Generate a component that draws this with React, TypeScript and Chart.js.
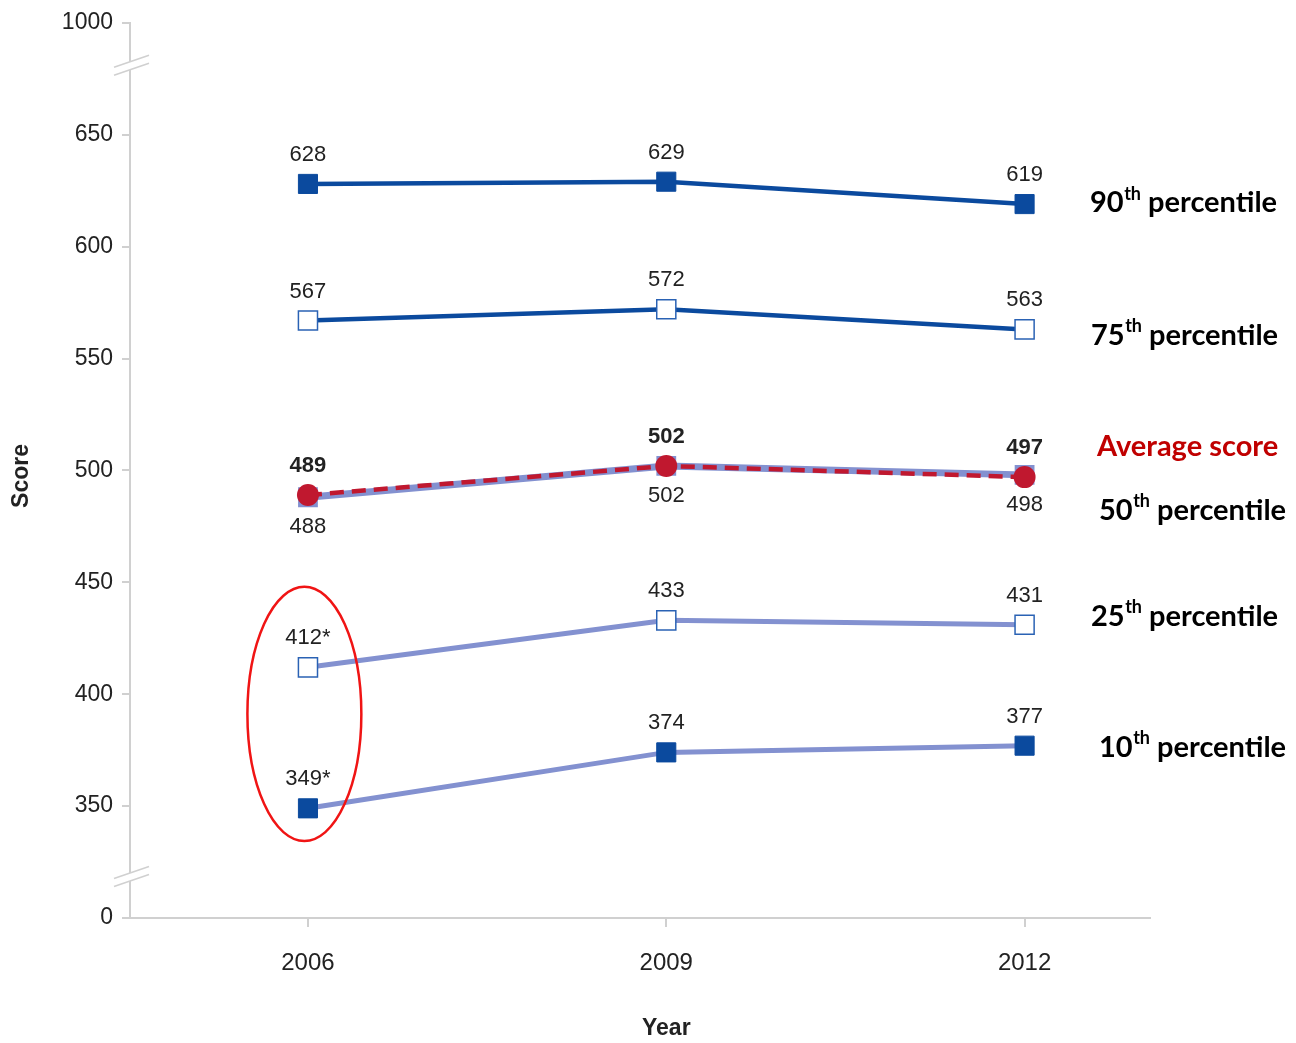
import React, { useEffect, useRef } from "react";
import { Chart, registerables } from "chart.js";

Chart.register(...registerables);

// ---- data ----
const years = [2006, 2009, 2012];
const p90 = [628, 629, 619];
const p75 = [567, 572, 563];
const avgScore = [489, 502, 497];
const p50 = [488, 502, 498];
const p25 = [412, 433, 431];
const p10 = [349, 374, 377];

const p90Labels = ["628", "629", "619"];
const p75Labels = ["567", "572", "563"];
const avgLabels = ["489", "502", "497"];
const p50Labels = ["488", "502", "498"];
const p25Labels = ["412*", "433", "431"];
const p10Labels = ["349*", "374", "377"];

const yTickValues = [300, 350, 400, 450, 500, 550, 600, 650, 700];
const yTickText = ["0", "350", "400", "450", "500", "550", "600", "650", "1000"];
const xTickValues = [2006, 2009, 2012];
const axisBreakValues = [318.3, 680.8];

const xTitle = "Year";
const yTitle = "Score";
const seriesNames = ["90", "75", "Average score", "50", "25", "10"];
const seriesLabelValues = [619.5, 560.4, 510.7, 482, 434.7, 376.3];

// ---- styles ----
const DARK = "#0B4A9E";
const LIGHT = "#8391D0";
const RED = "#C0182F";
const AXIS = "#D0D0D0";
const TEXT = "#222222";
const SANS = "'Liberation Sans', Arial, sans-serif";

const overlayPlugin = {
  id: "overlay",
  afterDatasetsDraw(chart: any) {
    const ctx = chart.ctx;
    const xs = chart.scales.x;
    const ys = chart.scales.y;

    // data labels
    const groups: [number[], string[], number, boolean][] = [
      [p90, p90Labels, -29, false],
      [p75, p75Labels, -29, false],
      [avgScore, avgLabels, -29, true],
      [p50, p50Labels, 30, false],
      [p25, p25Labels, -29, false],
      [p10, p10Labels, -29, false],
    ];
    ctx.save();
    ctx.textAlign = "center";
    ctx.textBaseline = "middle";
    ctx.fillStyle = TEXT;
    groups.forEach(([vals, labs, off, bold]) => {
      ctx.font = `${bold ? "bold " : ""}22px ${SANS}`;
      vals.forEach((v, i) => {
        const x = xs.getPixelForValue(years[i]);
        const y = ys.getPixelForValue(v) + off;
        ctx.fillText(labs[i], x, y);
      });
    });
    ctx.restore();

    // ellipse highlight
    ctx.save();
    const cx = xs.getPixelForValue(2005.97);
    const cy = ys.getPixelForValue(391.2);
    const rx = Math.abs(xs.getPixelForValue(2005.97 + 0.477) - cx);
    const ry = Math.abs(ys.getPixelForValue(391.2 + 56.8) - cy);
    ctx.strokeStyle = "#F01414";
    ctx.lineWidth = 2.5;
    ctx.beginPath();
    ctx.ellipse(cx, cy, rx, ry, 0, 0, Math.PI * 2);
    ctx.stroke();
    ctx.restore();
  },
  afterDraw(chart: any) {
    const ctx = chart.ctx;
    const xs = chart.scales.x;
    const ys = chart.scales.y;
    const left = chart.chartArea.left;

    // axis breaks
    ctx.save();
    axisBreakValues.forEach((v) => {
      const cy = ys.getPixelForValue(v);
      const x0 = left - 16;
      const x1 = left + 19;
      const slope = -12 / 35;
      const yAt = (x: number, d: number) => cy + d + slope * (x - left);
      ctx.fillStyle = "#ffffff";
      ctx.beginPath();
      ctx.moveTo(x0, yAt(x0, -4));
      ctx.lineTo(x1, yAt(x1, -4));
      ctx.lineTo(x1, yAt(x1, 4));
      ctx.lineTo(x0, yAt(x0, 4));
      ctx.closePath();
      ctx.fill();
      ctx.strokeStyle = AXIS;
      ctx.lineWidth = 1.5;
      [-4, 4].forEach((d) => {
        ctx.beginPath();
        ctx.moveTo(x0, yAt(x0, d));
        ctx.lineTo(x1, yAt(x1, d));
        ctx.stroke();
      });
    });
    ctx.restore();

    // axis titles
    ctx.save();
    ctx.fillStyle = TEXT;
    ctx.font = `bold 23px ${SANS}`;
    ctx.textAlign = "center";
    ctx.textBaseline = "middle";
    ctx.fillText(xTitle, xs.getPixelForValue(2009), 1029);
    ctx.translate(22, ys.getPixelForValue(497.5));
    ctx.rotate(-Math.PI / 2);
    ctx.fillText(yTitle, 0, 0);
    ctx.restore();

    // right-side series labels
    ctx.save();
    ctx.textBaseline = "middle";
    ctx.textAlign = "left";
    const lefts = [1090, 1091, 1097, 1099, 1091, 1099];
    const big = `bold 29px Lato, sans-serif`;
    const small = `bold 18px Lato, sans-serif`;
    seriesNames.forEach((name, i) => {
      const y = ys.getPixelForValue(seriesLabelValues[i]);
      let x = lefts[i];
      if (name === "Average score") {
        ctx.font = big;
        ctx.fillStyle = "#C00000";
        ctx.fillText(name, x, y);
        return;
      }
      ctx.fillStyle = "#000000";
      ctx.font = big;
      ctx.fillText(name, x, y);
      x += ctx.measureText(name).width;
      ctx.font = small;
      ctx.fillText("th", x + 0.5, y - 9);
      x += ctx.measureText("th").width + 0.5;
      ctx.font = big;
      ctx.fillText(" percentile", x, y);
    });
    ctx.restore();
  },
};

export default function App() {
  const ref = useRef<HTMLCanvasElement | null>(null);

  useEffect(() => {
    if (!ref.current) return;
    const pts = (arr: number[]) => arr.map((v, i) => ({ x: years[i], y: v }));
    const chart = new Chart(ref.current, {
      type: "line",
      data: {
        datasets: [
          {
            label: "Average score",
            data: pts(avgScore),
            borderColor: RED,
            borderWidth: 4.5,
            borderDash: [14, 8],
            pointStyle: "circle",
            pointRadius: 11,
            pointBackgroundColor: RED,
            pointBorderWidth: 0,
            pointBorderColor: RED,
          },
          {
            label: "50th percentile",
            data: pts(p50),
            borderColor: LIGHT,
            borderWidth: 7,
            pointStyle: "rect",
            pointRadius: 14,
            pointBackgroundColor: LIGHT,
            pointBorderWidth: 0,
            pointBorderColor: LIGHT,
          },
          {
            label: "90th percentile",
            data: pts(p90),
            borderColor: DARK,
            borderWidth: 4.5,
            pointStyle: "rect",
            pointRadius: 13.5,
            pointBackgroundColor: DARK,
            pointBorderColor: DARK,
            pointBorderWidth: 1,
          },
          {
            label: "75th percentile",
            data: pts(p75),
            borderColor: DARK,
            borderWidth: 4.5,
            pointStyle: "rect",
            pointRadius: 13.5,
            pointBackgroundColor: "#ffffff",
            pointBorderColor: "#2A62B4",
            pointBorderWidth: 1.5,
          },
          {
            label: "25th percentile",
            data: pts(p25),
            borderColor: LIGHT,
            borderWidth: 5,
            pointStyle: "rect",
            pointRadius: 13.5,
            pointBackgroundColor: "#ffffff",
            pointBorderColor: "#2A62B4",
            pointBorderWidth: 1.5,
          },
          {
            label: "10th percentile",
            data: pts(p10),
            borderColor: LIGHT,
            borderWidth: 5,
            pointStyle: "rect",
            pointRadius: 13.5,
            pointBackgroundColor: DARK,
            pointBorderColor: DARK,
            pointBorderWidth: 1,
          },
        ],
      },
      options: {
        animation: false,
        responsive: false,
        layout: { padding: { left: 0, right: 146, top: 21, bottom: 0 } },
        plugins: { legend: { display: false }, tooltip: { enabled: false } },
        elements: { line: { tension: 0 } },
        scales: {
          x: {
            type: "linear",
            min: 2004.51,
            max: 2013.05,
            afterBuildTicks: (s: any) => {
              s.ticks = xTickValues.map((v) => ({ value: v }));
            },
            afterFit: (s: any) => {
              s.height = 125;
            },
            grid: {
              drawOnChartArea: false,
              drawTicks: true,
              tickLength: 9,
              color: AXIS,
              lineWidth: 2,
            },
            border: { color: AXIS, width: 2 },
            ticks: {
              autoSkip: false,
              maxRotation: 0,
              padding: 22,
              color: TEXT,
              font: { family: SANS, size: 24 },
              callback: (v: any) => String(v),
            },
            title: { display: false },
          },
          y: {
            type: "linear",
            min: 300,
            max: 700,
            afterBuildTicks: (s: any) => {
              s.ticks = yTickValues.map((v) => ({ value: v }));
            },
            afterFit: (s: any) => {
              s.width = 130;
            },
            grid: {
              drawOnChartArea: false,
              drawTicks: true,
              tickLength: 8,
              color: AXIS,
              lineWidth: 2,
            },
            border: { color: AXIS, width: 2 },
            ticks: {
              padding: 9,
              color: TEXT,
              font: { family: SANS, size: 23 },
              callback: (v: any) => {
                const idx = yTickValues.indexOf(Number(v));
                return idx >= 0 ? yTickText[idx] : "";
              },
            },
            title: { display: false },
          },
        },
      },
      plugins: [overlayPlugin],
    });
    return () => chart.destroy();
  }, []);

  return (
    <div style={{ position: "fixed", left: 0, top: 0, width: 1296, height: 1043, background: "#ffffff" }}>
      <canvas ref={ref} width={1296} height={1043} style={{ display: "block", width: 1296, height: 1043 }} />
    </div>
  );
}
